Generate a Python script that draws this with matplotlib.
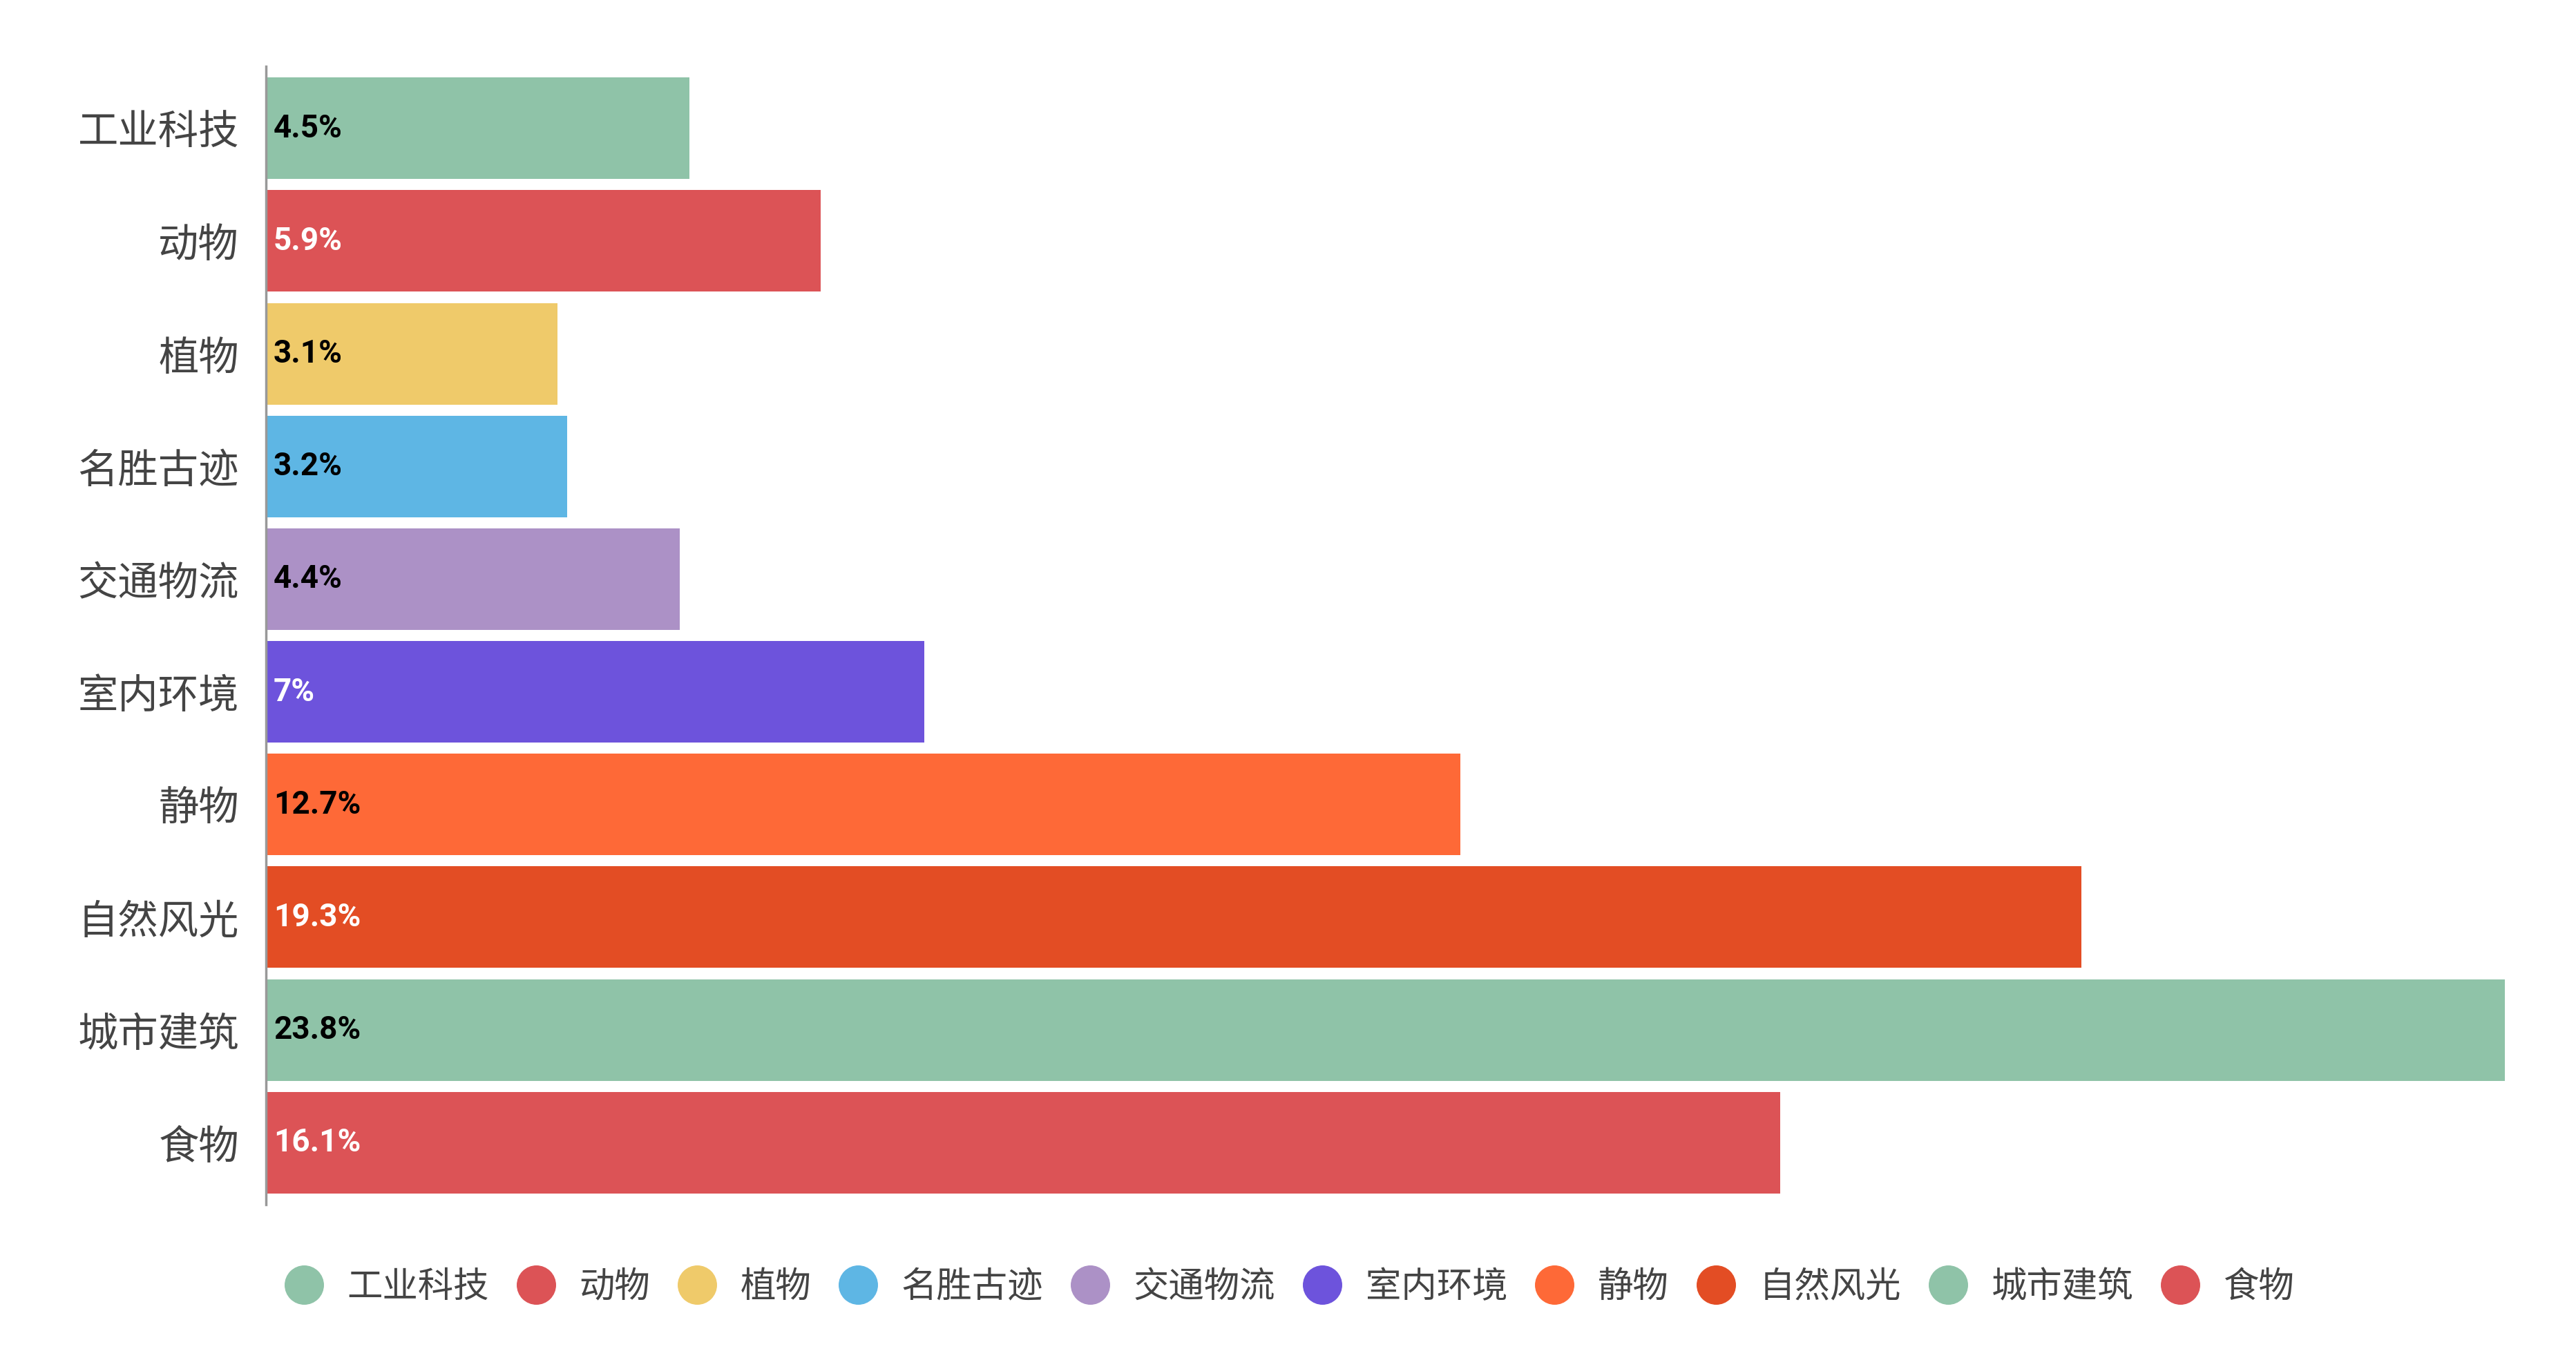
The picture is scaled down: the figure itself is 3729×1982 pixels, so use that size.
import matplotlib
matplotlib.use("Agg")
import matplotlib.pyplot as plt
from matplotlib.lines import Line2D

plt.rcParams['font.family'] = ['Noto Sans CJK SC', 'DejaVu Sans']

categories = ["工业科技", "动物", "植物", "名胜古迹", "交通物流", "室内环境", "静物", "自然风光", "城市建筑", "食物"]
values = [4.5, 5.9, 3.1, 3.2, 4.4, 7.0, 12.7, 19.3, 23.8, 16.1]
labels = ["4.5%", "5.9%", "3.1%", "3.2%", "4.4%", "7%", "12.7%", "19.3%", "23.8%", "16.1%"]
colors = ["#8FC3A8", "#DC5356", "#EFCA6A", "#5EB6E4", "#AC91C6",
          "#6D53DC", "#FE6937", "#E34D24", "#8FC3A8", "#DC5356"]
text_colors = ["black", "white", "black", "black", "black",
               "white", "black", "white", "black", "white"]

W, H = 3730, 1982
fig = plt.figure(figsize=(W / 100, H / 100), dpi=100)
ax = fig.add_axes([385 / W, 1 - 1744 / H, (3626 - 385) / W, (1744 - 96) / H])

y = list(range(len(categories)))
ax.barh(y, values, height=0.9, color=colors)

for i, (v, lab) in enumerate(zip(values, labels)):
    ax.annotate(lab, (0, i), xytext=(8, 0), textcoords="offset points",
                va="center", ha="left", fontsize=33, fontweight="bold",
                color=text_colors[i], family=["Roboto", "DejaVu Sans"])

ax.set_yticks(y)
ax.set_yticklabels(categories, fontsize=42, color="#444444")
ax.tick_params(axis="y", length=0, pad=28)
ax.set_xticks([])
ax.set_xlim(0, max(values))
ax.set_ylim(len(categories) - 0.45, -0.55)
for s in ["top", "right", "bottom"]:
    ax.spines[s].set_visible(False)
ax.spines["left"].set_color("#999999")
ax.spines["left"].set_linewidth(2.5)

handles = [Line2D([], [], marker="o", linestyle="", markersize=40,
                  markerfacecolor=c, markeredgecolor=c) for c in colors]
fig.legend(handles, categories, loc="center", bbox_to_anchor=(0.5, 0.06),
           ncol=len(categories), frameon=False, fontsize=37,
           handlelength=1.2, handletextpad=0.62, columnspacing=0.72,
           labelcolor="#444444")

fig.savefig("out.png", dpi=100)
